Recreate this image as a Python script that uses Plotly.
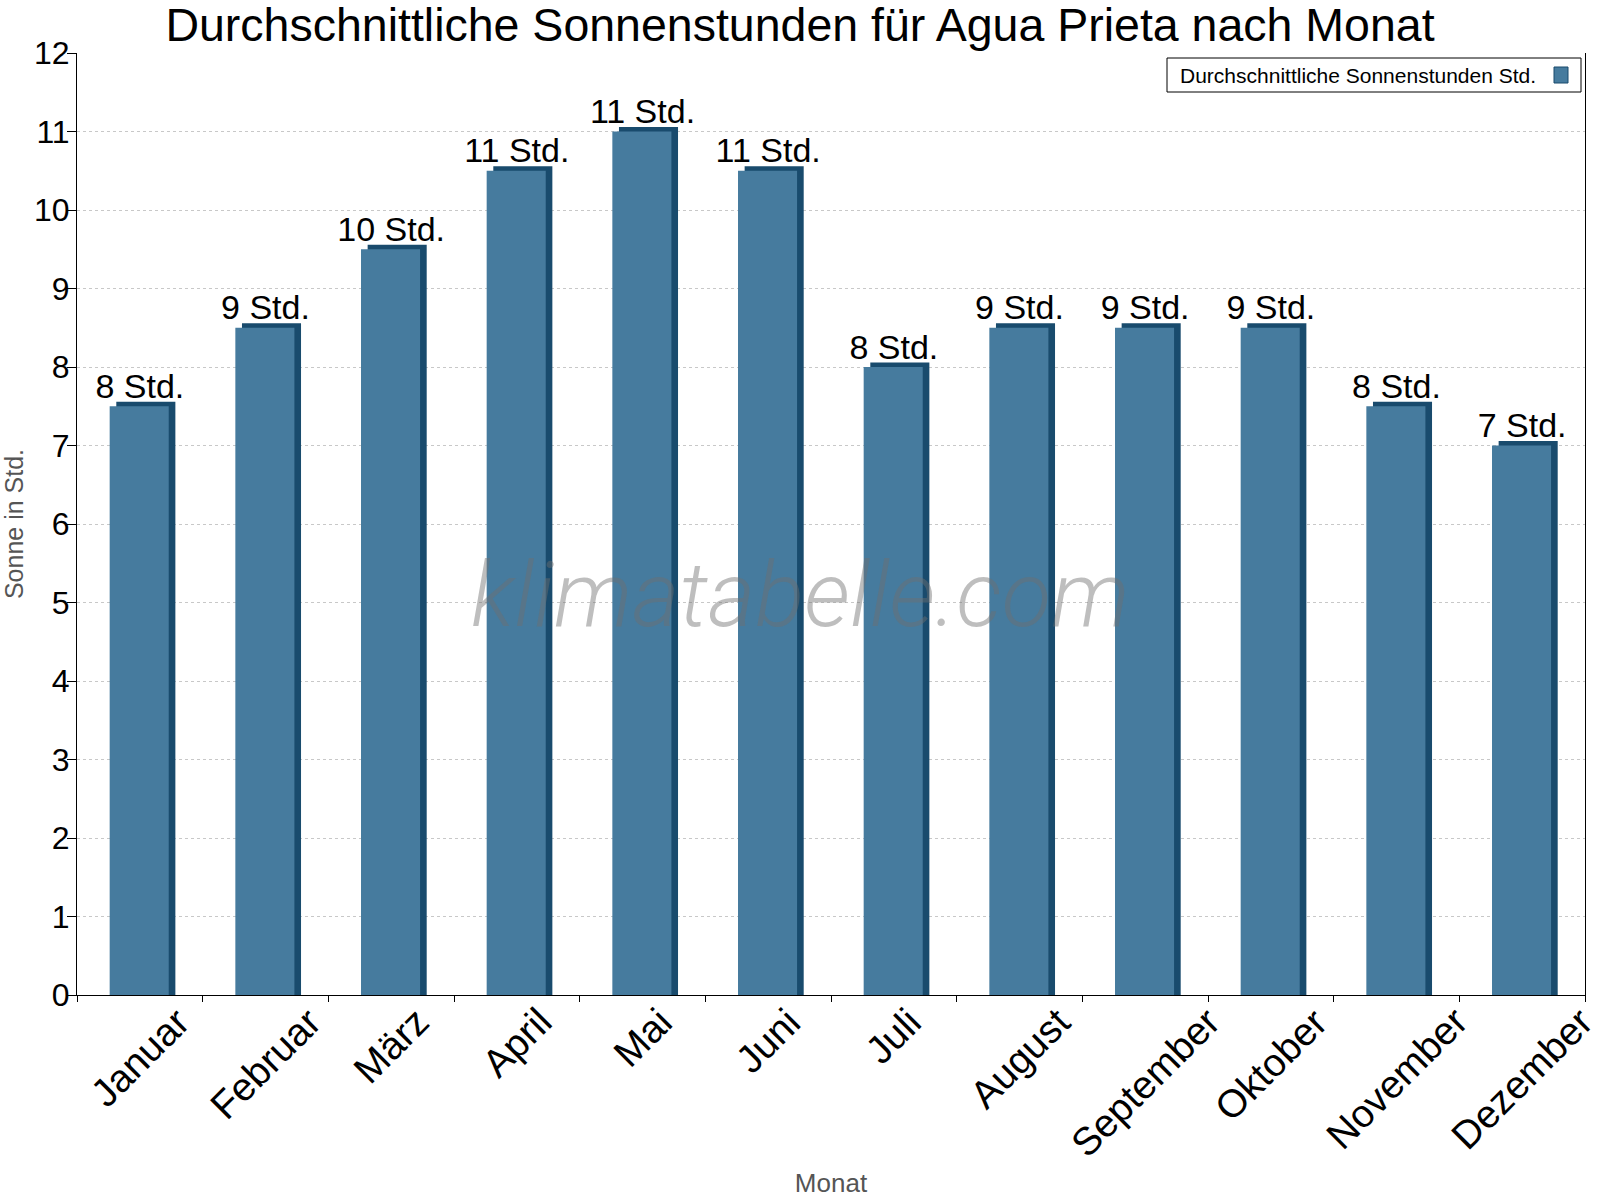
import plotly.graph_objects as go

months = ["Januar", "Februar", "März", "April", "Mai", "Juni", "Juli",
          "August", "September", "Oktober", "November", "Dezember"]
sun_hours = [7.5, 8.5, 9.5, 10.5, 11, 10.5, 8, 8.5, 8.5, 8.5, 7.5, 7]
labels = ["8 Std.", "9 Std.", "10 Std.", "11 Std.", "11 Std.", "11 Std.",
          "8 Std.", "9 Std.", "9 Std.", "9 Std.", "8 Std.", "7 Std."]
series_name = "Durchschnittliche Sonnenstunden Std."

FRONT = "#467B9E"
SIDE = "#194B6D"
FONT = "Liberation Sans"

W, H = 1600, 1200
L, R, T, B = 77, 15, 53, 205
pw, ph = W - L - R, H - T - B

def px(x):
    return (x - L) / pw

def py(y):
    return (H - B - y) / ph

bar_w = 0.47
dx = 6 / (pw / 12)
dy = 4.5 / (ph / 12)

fig = go.Figure()
# 3D side/top (darker)
fig.add_trace(go.Bar(
    x=months, y=[v + dy for v in sun_hours], width=bar_w, offset=-bar_w / 2 + dx,
    marker=dict(color=SIDE, line=dict(width=0)), showlegend=False, hoverinfo="skip",
))
# front face
fig.add_trace(go.Bar(
    x=months, y=sun_hours, width=bar_w, offset=-bar_w / 2 - 0.005,
    marker=dict(color=FRONT, line=dict(width=0)), name=series_name, showlegend=False,
))
# value labels
fig.add_trace(go.Scatter(
    x=months, y=sun_hours, mode="text", text=labels, textposition="top center",
    textfont=dict(family=FONT, size=34, color="black"), showlegend=False,
    cliponaxis=False, hoverinfo="skip",
))

# rotated month labels, centred under each category (as in the reference)
month_annotations = [
    dict(text=m, x=m, xref="x", y=0, yref="y", xanchor="center", yanchor="top",
         textangle=-45, xshift=0, yshift=-2, showarrow=False,
         font=dict(family=FONT, size=39, color="black"))
    for m in months
]

fig.update_layout(
    width=W, height=H,
    margin=dict(l=L, r=R, t=T, b=B, autoexpand=False),
    paper_bgcolor="white", plot_bgcolor="white",
    barmode="overlay",
    font=dict(family=FONT, color="black"),
    title=dict(text="Durchschnittliche Sonnenstunden für Agua Prieta nach Monat",
               x=0.5, xanchor="center", y=1 - 25 / H, yanchor="middle",
               font=dict(family=FONT, size=46.5, color="black")),
    xaxis=dict(
        type="category", showline=True, linecolor="black", linewidth=1,
        ticks="outside", ticklen=6, tickcolor="black", tickson="boundaries",
        showticklabels=False,
        showgrid=False, zeroline=False, automargin=False,
        title=dict(text="Monat", font=dict(family=FONT, size=26, color="#555555"), standoff=178),
        range=[-0.5, 11.5],
    ),
    yaxis=dict(
        range=[0, 12], dtick=1, showline=True, linecolor="black", linewidth=1, mirror=True,
        ticks="outside", ticklen=9, tickcolor="black", ticklabelstandoff=-9,
        tickfont=dict(family=FONT, size=32, color="black"),
        showgrid=True, gridcolor="#C8C8C8", griddash="dot", gridwidth=1,
        zeroline=False, automargin=False,
        title=dict(text="Sonne in Std.", font=dict(family=FONT, size=25, color="#555555"), standoff=12),
    ),
    shapes=[
        dict(type="rect", xref="paper", yref="paper", x0=px(1167), x1=px(1581), y0=py(92), y1=py(58),
             line=dict(color="black", width=1), fillcolor="white", layer="above"),
        dict(type="rect", xref="paper", yref="paper", x0=px(1554), x1=px(1568), y0=py(83), y1=py(67),
             line=dict(color=SIDE, width=1), fillcolor=FRONT, layer="above"),
    ],
    annotations=month_annotations + [
        dict(text=series_name, xref="paper", yref="paper", x=px(1178), y=py(75),
             xanchor="left", yanchor="middle", showarrow=False,
             font=dict(family=FONT, size=21, color="black")),
        dict(text="<i>klimatabelle.com</i>", xref="paper", yref="paper", x=px(800), y=py(595),
             xanchor="center", yanchor="middle", showarrow=False,
             font=dict(family="Roboto", size=91, color="rgba(110,110,110,0.45)", weight=300)),
    ],
)

fig.write_html("out.html")
